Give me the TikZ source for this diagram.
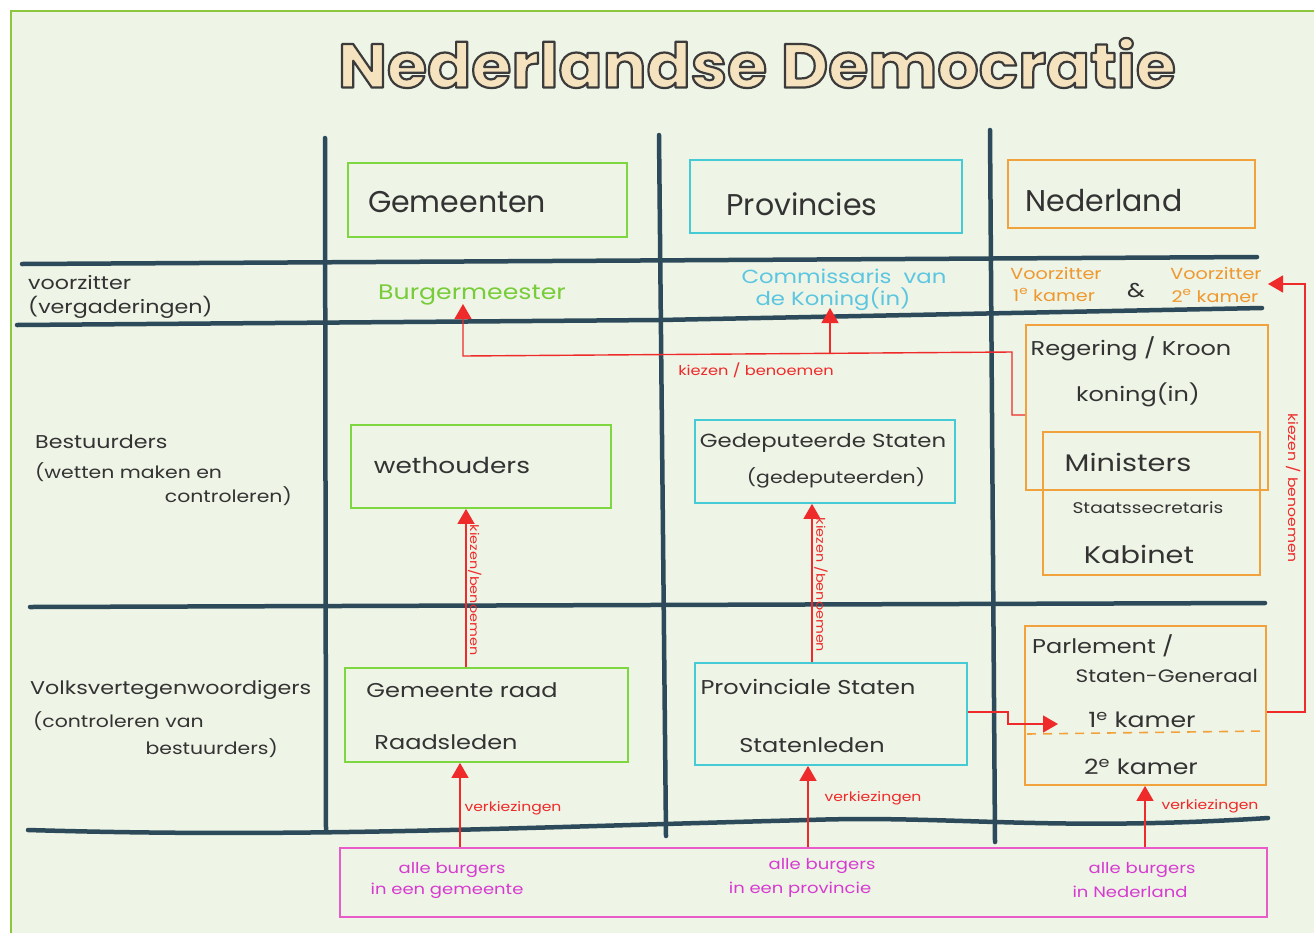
\documentclass[tikz,border=0pt]{standalone}
\usepackage{fontspec}
\usetikzlibrary{arrows.meta,calc}
\newfontfamily\hand{Poppins}[FakeStretch=1.2]
\newfontfamily\head{Poppins}
\newfontfamily\titlefont{Poppins}[FakeStretch=1.05]
\definecolor{bgc}{HTML}{EEF4E6}
\definecolor{framec}{HTML}{8CC63F}
\definecolor{gridc}{HTML}{2C4A5A}
\definecolor{ink}{HTML}{333333}
\definecolor{greenc}{HTML}{7ED640}
\definecolor{greent}{HTML}{78CC3A}
\definecolor{cyanc}{HTML}{45CBD6}
\definecolor{cyant}{HTML}{5CC6E0}
\definecolor{orangec}{HTML}{F2A23C}
\definecolor{oranget}{HTML}{EE982E}
\definecolor{redc}{HTML}{EE2A2A}
\definecolor{pinkc}{HTML}{E85BC8}
\definecolor{pinkt}{HTML}{D63BD0}
\definecolor{titlefill}{HTML}{F5E2BE}
\definecolor{titleink}{HTML}{3A3A3A}
\newcommand{\outlinedtitle}{%
  {\color{titlefill}\special{pdf:literal direct 2 Tr 2.2 w 1 j 0.23 0.23 0.23 RG}%
   \titlefont\bfseries\fontsize{62}{62}\selectfont Nederlandse Democratie%
   \special{pdf:literal direct 0 Tr}}}
\begin{document}
\begin{tikzpicture}[x=1pt,y=-1pt,
  txt/.style={font=\hand\fontsize{#1}{#1}\selectfont, text=ink, inner sep=0pt},
  hd/.style={font=\head\fontsize{#1}{#1}\selectfont, text=ink, inner sep=0pt},
  box/.style={draw=#1, line width=1.8pt, inner sep=0pt},
  gridline/.style={draw=gridc, line width=4.5pt, line cap=round},
  redline/.style={draw=redc, line width=1.4pt},
  redarrow/.style={redline, -{Triangle[width=17pt,length=15pt]}},
]
\useasboundingbox (0,0) rectangle (1314,932);
\fill[white] (0,0) rectangle (1314,932);
\draw[draw=framec, line width=2.5pt, fill=bgc] (11,11) rectangle (1340,960);

% title: outlined letters
\node[inner sep=0pt] (title) at (757,63) {\outlinedtitle};

% grid
\draw[gridline] (325,138) -- (326,830);
\draw[gridline] (659,135) -- (666,836);
\draw[gridline] (990,130) -- (995,842);
\draw[gridline] (22,264) -- (1257,257);
\draw[gridline] (17,325) -- (660,320) -- (1262,308);
\draw[gridline] (30,607) -- (1265,603);
\draw[gridline] (28,830) .. controls (300,838) and (500,828) .. (808,820) .. controls (950,815) and (1050,832) .. (1268,818);

% header boxes
\node[box=greenc, minimum width=279pt, minimum height=74pt] (hGem) at (487.5,200) {};
\node[box=cyanc, minimum width=272pt, minimum height=73pt] (hProv) at (826,196.5) {};
\node[box=orangec, minimum width=247pt, minimum height=68pt] (hNed) at (1131.5,194) {};
\node[hd=30] (tGem) at (457,202) {Gemeenten};
\node[hd=30] (tProv) at (802,204) {Provincies};
\node[hd=30] (tNed) at (1104,201) {Nederland};

% row labels
\node[txt=18.5, anchor=west] (lVz1) at (28,283) {voorzitter};
\node[txt=18.5, anchor=west] (lVz2) at (28,307) {(vergaderingen)};
\node[txt=18.5, anchor=west] (lBe1) at (35,442) {Bestuurders};
\node[txt=17, anchor=west] (lBe2) at (35,472) {(wetten maken en};
\node[txt=17, anchor=east] (lBe3) at (292,496) {controleren)};
\node[txt=18.5, anchor=west] (lVo1) at (30,690) {Volksvertegenwoordigers};
\node[txt=17, anchor=west] (lVo2) at (33,721) {(controleren van};
\node[txt=17, anchor=east] (lVo3) at (278,748) {bestuurders)};

% voorzitter row
\node[txt=21, text=greent] (tBurg) at (472,295) {Burgermeester};
\node[txt=19, text=cyant] (tCom1) at (844,276) {Commissaris\ \ van};
\node[txt=19, text=cyant] (tCom2) at (833,299) {de Koning(in)};
\node[txt=16, text=oranget] (tVz1a) at (1056,273) {Voorzitter};
\node[txt=16, text=oranget] (tVz1b) at (1054,295) {1\textsuperscript{e} kamer};
\node[txt=20] (tAmp) at (1136,291) {\&};
\node[txt=16, text=oranget] (tVz2a) at (1216,273) {Voorzitter};
\node[txt=16, text=oranget] (tVz2b) at (1215,296) {2\textsuperscript{e} kamer};

% bestuurders row
\node[box=greenc, minimum width=260pt, minimum height=83pt] (bWet) at (481,466.5) {};
\node[txt=22] (tWet) at (452,465) {wethouders};
\node[box=cyanc, minimum width=260pt, minimum height=83pt] (bGed) at (825,461.5) {};
\node[txt=19] (tGed1) at (823,443) {Gedeputeerde Staten};
\node[txt=17] (tGed2) at (836,478) {(gedeputeerden)};
\node[box=orangec, minimum width=242pt, minimum height=165pt] (bReg) at (1147,407.5) {};
\node[box=orangec, minimum width=217pt, minimum height=143pt] (bMin) at (1151.5,503.5) {};
\node[txt=20] (tReg) at (1131,349) {Regering / Kroon};
\node[txt=20] (tKon) at (1138,395) {koning(in)};
\node[txt=24] (tMin) at (1128,462) {Ministers};
\node[txt=15.5] (tSta) at (1148,508) {Staatssecretaris};
\node[txt=24] (tKab) at (1139,554) {Kabinet};

% volksvertegenwoordigers row
\node[box=greenc, minimum width=283pt, minimum height=94pt] (bRaad) at (486.5,715) {};
\node[txt=20] (tRaad1) at (462,690) {Gemeente raad};
\node[txt=20] (tRaad2) at (446,742) {Raadsleden};
\node[box=cyanc, minimum width=272pt, minimum height=102pt] (bPS) at (831,714) {};
\node[txt=20] (tPS1) at (808,687) {Provinciale Staten};
\node[txt=20] (tPS2) at (812,745) {Statenleden};
\node[box=orangec, minimum width=241pt, minimum height=159pt] (bParl) at (1145.5,705.5) {};
\node[txt=20, anchor=west] (tParl1) at (1032,646) {Parlement /};
\node[txt=18, anchor=east] (tParl2) at (1258,676) {Staten-Generaal};
\node[txt=21] (tK1) at (1142,720) {1\textsuperscript{e} kamer};
\node[txt=21] (tK2) at (1141,767) {2\textsuperscript{e} kamer};
\draw[orangec, line width=1.6pt, dash pattern=on 9pt off 7pt] (1027,734) -- (1264,731);

% burgers
\node[box=pinkc, minimum width=927pt, minimum height=69pt] (bBurg) at (803.5,882.5) {};
\node[txt=15, text=pinkt] (tB1a) at (452,870) {alle burgers};
\node[txt=15, text=pinkt] (tB1b) at (447,891) {in een gemeente};
\node[txt=15, text=pinkt] (tB2a) at (822,866) {alle burgers};
\node[txt=15, text=pinkt] (tB2b) at (800,890) {in een provincie};
\node[txt=15, text=pinkt] (tB3a) at (1142,870) {alle burgers};
\node[txt=15, text=pinkt] (tB3b) at (1130,892) {in Nederland};

% coordinates
\coordinate (kb0) at (1012,415);
\coordinate (kb1) at (1012,352);
\coordinate (kb2) at (463,356);
\coordinate (aBurg) at (463,304);
\coordinate (jCom) at (830,354);
\coordinate (aCom) at (830,308);
\coordinate (kv1) at (466,0);
\coordinate (kv2) at (812,0);
\coordinate (rr1) at (1305,712);
\coordinate (rr2) at (1305,284);
\coordinate (aVz2) at (1268,284);
\coordinate (pk1) at (1008,712);
\coordinate (pk2) at (1008,724);
\coordinate (aK1) at (1058,724);
\coordinate (v1) at (460,0);
\coordinate (v2) at (808,0);
\coordinate (v3) at (1145,0);

% red connectors
\draw[redarrow] (bReg.west |- kb0) -- (kb0) -- (kb1) -- (kb2) -- (aBurg);
\draw[redarrow] (jCom) -- (aCom);
\node[txt=13.5, text=redc] (lKB) at (756,370) {kiezen / benoemen};

\draw[redarrow] (bRaad.north -| kv1) -- (bWet.south -| kv1);
\node[txt=12, text=redc, rotate=-90, anchor=south] (lKV1) at (468,590) {kiezen/benoemen};
\draw[redarrow] (bPS.north -| kv2) -- (bGed.south -| kv2);
\node[txt=12, text=redc, rotate=-90, anchor=south] (lKV2) at (814,585) {kiezen /benoemen};

\draw[redarrow] (bParl.east |- rr1) -- (rr1) -- (rr2) -- (aVz2);
\node[txt=13, text=redc, rotate=-90, anchor=north] (lKR) at (1301,488) {kiezen / benoemen};

\draw[redarrow] (bPS.east |- pk1) -- (pk1) -- (pk2) -- (aK1);

\draw[redarrow] (bBurg.north -| v1) -- (bRaad.south -| v1);
\draw[redarrow] (bBurg.north -| v2) -- (bPS.south -| v2);
\draw[redarrow] (bBurg.north -| v3) -- (bParl.south -| v3);
\node[txt=13, text=redc] (lV1) at (513,808) {verkiezingen};
\node[txt=13, text=redc] (lV2) at (873,798) {verkiezingen};
\node[txt=13, text=redc] (lV3) at (1210,806) {verkiezingen};
\end{tikzpicture}
\end{document}
